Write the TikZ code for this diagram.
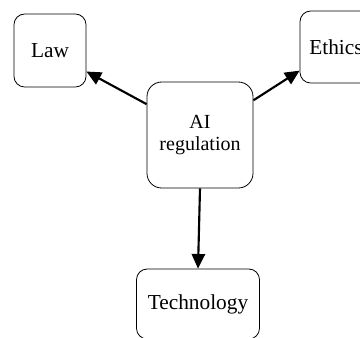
\documentclass[tikz,border=0pt]{standalone}
\usepackage{fontspec}
\setmainfont{Liberation Serif}
\usetikzlibrary{arrows.meta}
\begin{document}
\begin{tikzpicture}[x=0.75pt,y=-0.75pt,
  box/.style={draw, line width=0.6pt, rounded corners=8pt, align=center, inner sep=0pt, font=\fontsize{16}{18}\selectfont},
  conn/.style={line width=1.6pt, -{Triangle[length=11pt,width=10pt]}}]
\useasboundingbox (0,0) rectangle (360,337);
\clip (0,0) rectangle (360,337);
\node[box, minimum width=54pt, minimum height=54.75pt] (law) at (50,50.5) {Law};
\node[box, minimum width=54pt, minimum height=54pt] (eth) at (336,47) {Ethics};
\node[box, rounded corners=11pt, minimum width=79.5pt, minimum height=79.5pt, font=\fontsize{15}{16}\selectfont] (ai) at (200,135) {AI\\regulation};
\node[box, minimum width=92.25pt, minimum height=52.5pt] (tech) at (198,304) {Technology};
\draw[conn] (ai.150) -- (law.-30);
\draw[conn] (ai.33) -- (eth.213);
\draw[conn] (ai.south) -- (tech.north);
\end{tikzpicture}
\end{document}
